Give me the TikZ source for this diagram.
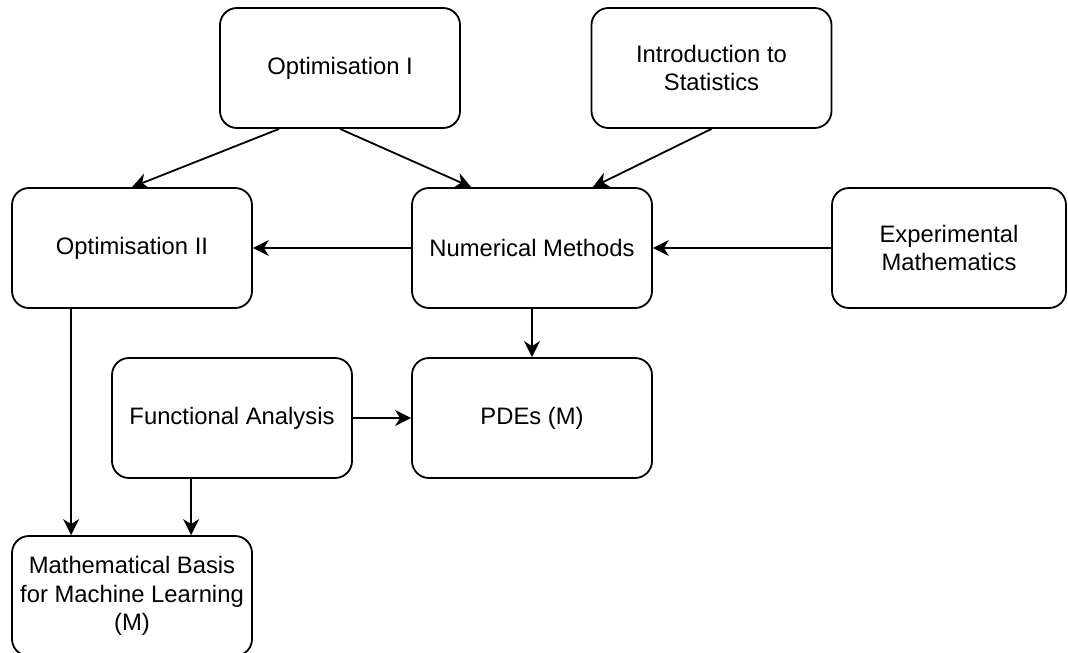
\documentclass[tikz,border=0pt]{standalone}
\usepackage{fontspec}
\setmainfont{Liberation Sans}
\usetikzlibrary{arrows.meta,calc}

\tikzset{
  course/.style={draw=black, line width=1.8pt, rounded corners=17pt,
    minimum width=240pt, minimum height=120pt, inner sep=0pt,
    align=center, font=\fontsize{23.8}{28.8}\selectfont, text=black},
  link/.style={draw=black, line width=1.8pt,
    -{Stealth[length=16pt,width=16pt,inset=5pt]}}
}

\begin{document}
\begin{tikzpicture}[x=1pt,y=-1pt]
  \useasboundingbox (0,0) rectangle (1068,653);

  % course boxes
  \node[course] (o1)  at (340,68)  {Optimisation I};
  \node[course] (is)  at (711.5,68) {Introduction to\\Statistics};
  \node[course] (o2)  at (132,248) {Optimisation II};
  \node[course] (nm)  at (532,248) {Numerical Methods};
  \node[course, minimum width=234pt] (ex) at (949,248) {Experimental\\Mathematics};
  \node[course] (fa)  at (232,418) {Functional Analysis};
  \node[course] (pde) at (532,418) {PDEs (M)};
  \node[course] (mb)  at (132,596) {Mathematical Basis\\for Machine Learning\\(M)};

  % prerequisites
  \draw[link] ($(o1.south west)+(60,0)$) -- (o2.north);
  \draw[link] (o1.south) -- ($(nm.north west)+(60,0)$);
  \draw[link] (is.south) -- ($(nm.north east)+(-60,0)$);
  \draw[link] (nm.west) -- (o2.east);
  \draw[link] (ex.west) -- (nm.east);
  \draw[link] (nm.south) -- (pde.north);
  \draw[link] (fa.east) -- (pde.west);
  \draw[link] ($(o2.south west)+(60,0)$) -- ($(mb.north west)+(60,0)$);
  \draw[link] ($(fa.south west)+(80,0)$) -- ($(mb.north west)+(180,0)$);
\end{tikzpicture}
\end{document}
